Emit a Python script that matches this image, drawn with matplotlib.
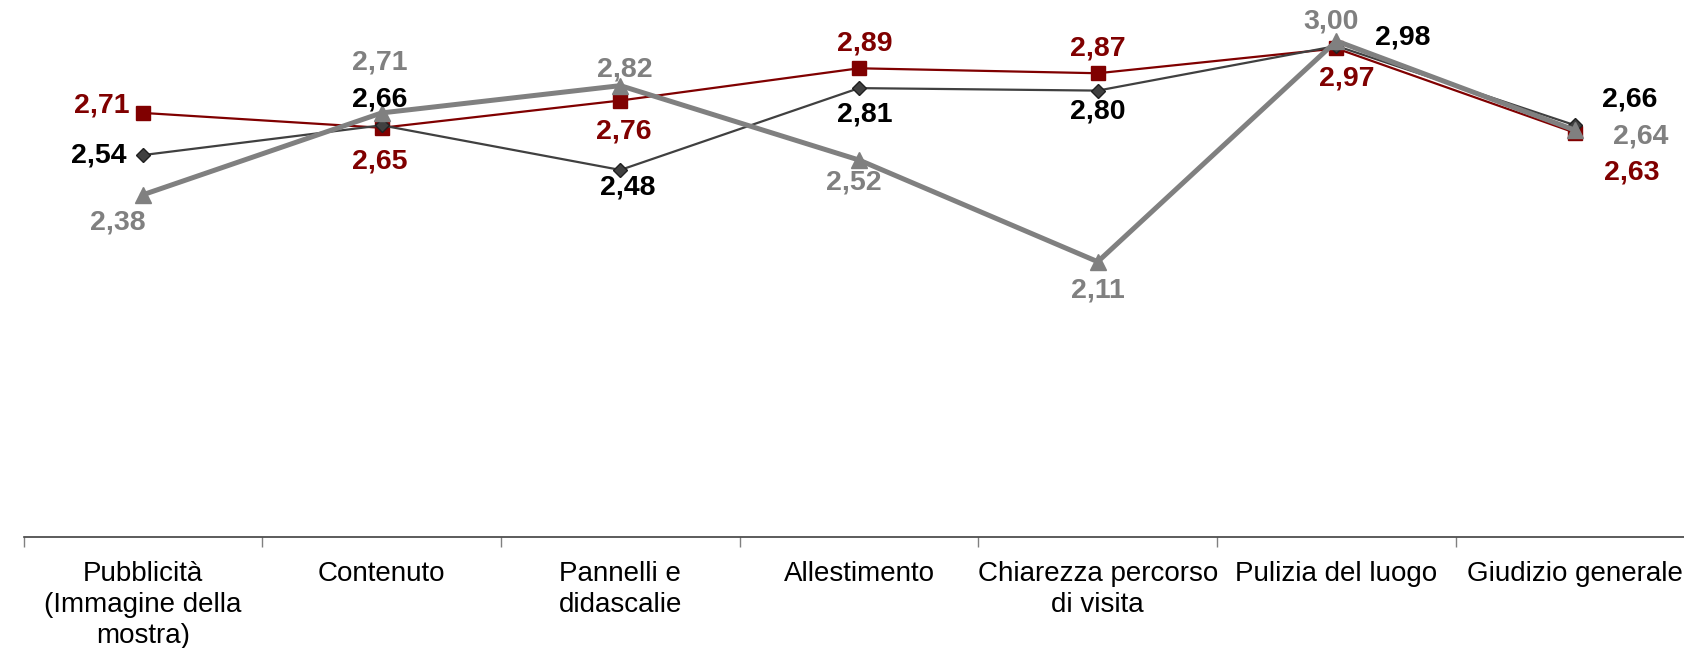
import matplotlib
matplotlib.use("Agg")
import matplotlib.pyplot as plt
import numpy as np

categories = ["Pubblicità\n(Immagine della\nmostra)", "Contenuto", "Pannelli e\ndidascalie",
              "Allestimento", "Chiarezza percorso\ndi visita", "Pulizia del luogo", "Giudizio generale"]
serie_nera = [2.54, 2.66, 2.48, 2.81, 2.80, 2.98, 2.66]
serie_rossa = [2.71, 2.65, 2.76, 2.89, 2.87, 2.97, 2.63]
serie_grigia = [2.38, 2.71, 2.82, 2.52, 2.11, 3.00, 2.64]

# label offsets (pixels, relative to the point)
S = 1.074
off_nera = [(-41, 0), (-2, 24.5), (7, -16), (5, -25), (0, -19), (62, 8), (51, 24.5)]
off_rossa = [(-38, 7), (-2, -31), (3, -29), (5, 23), (0, 23), (10, -28), (53, -37)]
off_grigia = [(-23, -26), (-2, 47), (4, 15), (-5, -21), (0, -27), (-5, 18), (61, -6)]

plt.rcParams['font.family'] = ['Liberation Sans', 'DejaVu Sans']

fig = plt.figure(figsize=(16.84, 6.48), dpi=100)
ax = fig.add_axes([23.6 / 1684, (648 - 537) / 648, 7 * 238.7 / 1684, (537 - 41) / 648])

x = np.arange(len(categories))
RED = "#800000"
DARK = "#404040"
GRAY = "#808080"

ax.plot(x, serie_rossa, color=RED, lw=1.6, marker="s", ms=10, mfc=RED, mec=RED, clip_on=False, zorder=3)
ax.plot(x, serie_nera, color=DARK, lw=1.6, marker="D", ms=7.5, mfc=DARK, mec="#202020", clip_on=False, zorder=4)
ax.plot(x, serie_grigia, color=GRAY, lw=3.6, marker="^", ms=12, mfc=GRAY, mec=GRAY, clip_on=False, zorder=5)

def fmt(v):
    return f"{v:.2f}".replace(".", ",")

for vals, offs, col in [(serie_nera, off_nera, "#000000"), (serie_rossa, off_rossa, RED),
                        (serie_grigia, off_grigia, GRAY)]:
    for i, (v, (dx, dy)) in enumerate(zip(vals, offs)):
        ax.annotate(fmt(v), (i, v), xytext=(dx * S, dy * S), textcoords="offset pixels",
                    ha="center", va="center", fontsize=20.5, fontweight="bold", color=col,
                    annotation_clip=False, zorder=6)

ax.set_xlim(-0.5, len(categories) - 0.5)
ax.set_ylim(1.0, 3.0)
ax.set_xticks(x)
ax.set_xticklabels(categories, fontsize=20, linespacing=1.27)
ax.set_xticks(np.arange(-0.5, len(categories), 1.0), minor=True)
ax.tick_params(axis="x", which="major", length=0, pad=17)
ax.tick_params(axis="x", which="minor", length=7, color="#808080", width=1, direction="out")
ax.set_yticks([])
for s in ["left", "right", "top"]:
    ax.spines[s].set_visible(False)
ax.spines["bottom"].set_color("#404040")
ax.spines["bottom"].set_linewidth(1.2)

fig.savefig("out.png", dpi=100)
